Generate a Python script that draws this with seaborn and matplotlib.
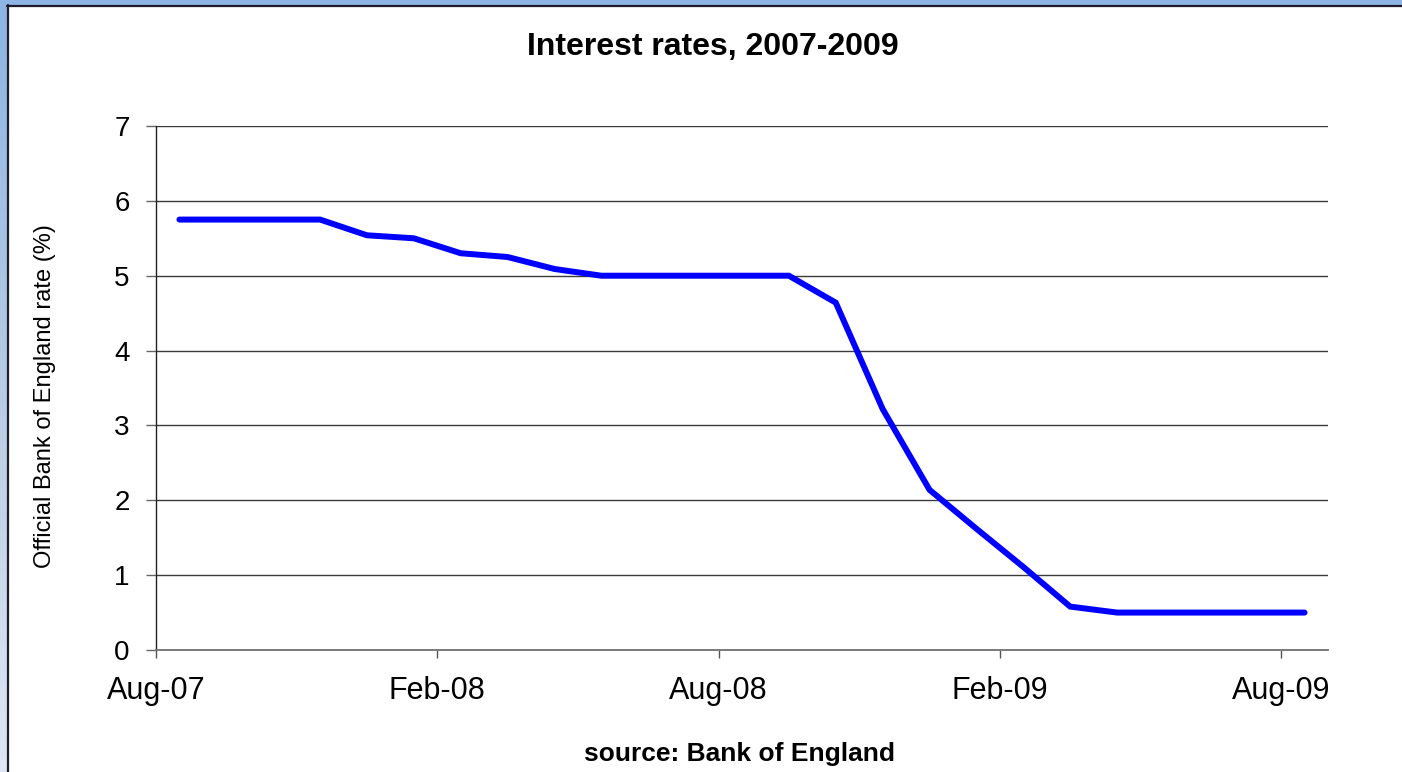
import numpy as np
import pandas as pd
import matplotlib
matplotlib.use("Agg")
import matplotlib.pyplot as plt
import seaborn as sns
from matplotlib.lines import Line2D
from matplotlib.colors import LinearSegmentedColormap

# Bank of England monthly rate, Aug-07 .. Aug-09
months = ["Aug-07", "Sep-07", "Oct-07", "Nov-07", "Dec-07", "Jan-08", "Feb-08",
          "Mar-08", "Apr-08", "May-08", "Jun-08", "Jul-08", "Aug-08", "Sep-08",
          "Oct-08", "Nov-08", "Dec-08", "Jan-09", "Feb-09", "Mar-09", "Apr-09",
          "May-09", "Jun-09", "Jul-09", "Aug-09"]
rates = [5.75, 5.75, 5.75, 5.75, 5.54, 5.50, 5.30, 5.25, 5.09, 5.00, 5.00,
         5.00, 5.00, 5.00, 4.64, 3.22, 2.14, 1.62, 1.11, 0.58, 0.50, 0.50,
         0.50, 0.50, 0.50]
tick_labels = ["Aug-07", "Feb-08", "Aug-08", "Feb-09", "Aug-09"]

df = pd.DataFrame({"month": months, "rate": rates})
df["pos"] = np.arange(len(df)) + 0.5   # points sit mid-month on the date axis

sns.set_style("white")
plt.rcParams["font.family"] = ["Liberation Sans", "DejaVu Sans"]
plt.rcParams["text.color"] = "black"
plt.rcParams["xtick.labelcolor"] = "black"
plt.rcParams["ytick.labelcolor"] = "black"
plt.rcParams["axes.labelcolor"] = "black"

W, H = 1402, 772
fig = plt.figure(figsize=(W / 100, H / 100), dpi=100)
ax = fig.add_axes([156 / W, 1 - 650 / H, (1328 - 156) / W, (650 - 126) / H])

sns.lineplot(data=df, x="pos", y="rate", ax=ax, color="#0000FF",
             linewidth=4.3, solid_capstyle="round", solid_joinstyle="miter")

ax.set_xlim(0, len(df))
ax.set_ylim(0, 7)
ax.set_xticks([months.index(m) for m in tick_labels])
ax.set_xticklabels(tick_labels)
ax.set_yticks(range(0, 8))

for y in range(1, 8):
    ax.axhline(y, color="#3a3a3a", linewidth=1.0, zorder=0)

for side in ["top", "right"]:
    ax.spines[side].set_visible(False)
ax.spines["left"].set_color("#222222")
ax.spines["left"].set_linewidth(1.0)
ax.spines["bottom"].set_color("#7a7a7a")
ax.spines["bottom"].set_linewidth(1.4)

ax.tick_params(axis="y", direction="out", length=7, width=1, color="#666666",
               labelsize=20, pad=12, left=True)
ax.tick_params(axis="x", direction="out", length=6, width=1, color="#555555",
               labelsize=22, pad=13, bottom=True)

ax.set_xlabel("")
ax.set_ylabel("Official Bank of England rate (%)", fontsize=17)
ax.yaxis.set_label_coords(-0.085, 0.485)

fig.text(713 / W, 1 - 47 / H, "Interest rates, 2007-2009", fontsize=23,
         fontweight="bold", ha="center", va="center")
fig.text(740 / W, 1 - 754 / H, "source: Bank of England", fontsize=19,
         fontweight="bold", ha="center", va="center")

# window frame: blue bar on top and a fading one on the left
fig.patches.append(plt.Rectangle((0, 1 - 5 / H), 1, 5 / H, transform=fig.transFigure,
                                 color="#8DB4E2", zorder=5))
bar = fig.add_axes([0, 0, 7 / W, 1 - 5 / H])
grad = LinearSegmentedColormap.from_list("frame", ["#DDE7F3", "#B8CCE4", "#8DB4E2"])
bar.imshow(np.linspace(0, 1, 256).reshape(-1, 1), aspect="auto", cmap=grad,
           origin="lower", extent=[0, 1, 0, 1])
bar.axis("off")
fig.lines.append(Line2D([7 / W, 1], [1 - 6 / H, 1 - 6 / H], transform=fig.transFigure,
                        color="#1c1c2a", linewidth=1.6, zorder=6))
fig.lines.append(Line2D([8 / W, 8 / W], [0, 1 - 5 / H], transform=fig.transFigure,
                        color="#1c1c2a", linewidth=1.6, zorder=6))

fig.savefig("out.png", dpi=100)
